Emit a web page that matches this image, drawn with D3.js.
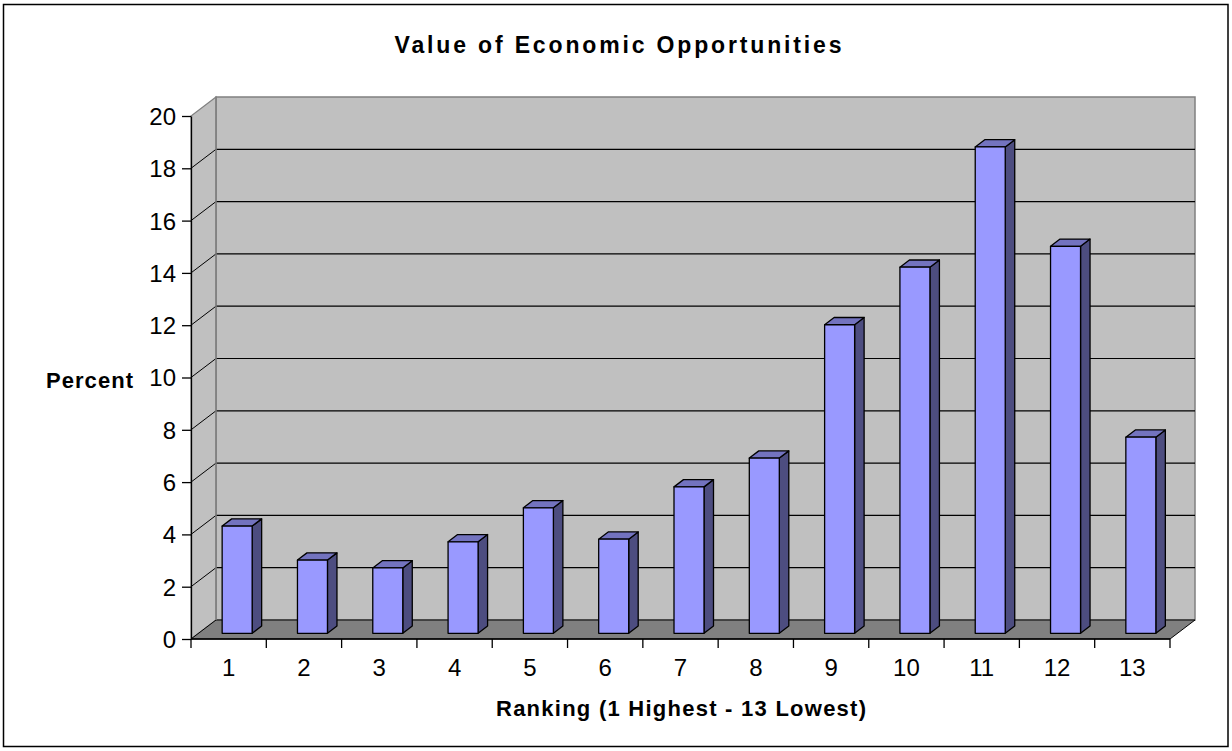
<!DOCTYPE html>
<html><head><meta charset="utf-8">
<script src="https://cdn.jsdelivr.net/npm/d3@7"></script>
<style>body{margin:0;background:#fff}svg{display:block}text{font-family:"Liberation Sans",Arial,sans-serif}</style>
</head><body>
<script>
const categories = ["1","2","3","4","5","6","7","8","9","10","11","12","13"];
const values = [4.1, 2.8, 2.5, 3.5, 4.8, 3.6, 5.6, 6.7, 11.8, 14.0, 18.6, 14.8, 7.5];
const yTicks = [0,2,4,6,8,10,12,14,16,18,20];
const title = "Value of Economic Opportunities";
const xTitle = "Ranking (1 Highest - 13 Lowest)";
const yTitle = "Percent";

const W = 1232, H = 751;
const svg = d3.select("body").append("svg").attr("width", W).attr("height", H);

// outer border
svg.append("rect").attr("x",3.5).attr("y",4.5).attr("width",1224.5).attr("height",742).attr("fill","#fff").attr("stroke","#000").attr("stroke-width",1.5);

const x0 = 191, x1 = 1170, yBase = 639, yTop = 116;
const DX = 25, DY = -19;
const x = d3.scaleBand().domain(categories).range([x0, x1]).padding(0);
const y = d3.scaleLinear().domain([0, 20]).range([yBase, yTop]);

// back wall
svg.append("rect").attr("x", x0+DX).attr("y", yTop+DY).attr("width", x1-x0).attr("height", yBase-yTop)
  .attr("fill","#c0c0c0").attr("stroke","#808080").attr("stroke-width",1.5);
// left wall
svg.append("polygon").attr("points", [[x0,yBase],[x0,yTop],[x0+DX,yTop+DY],[x0+DX,yBase+DY]].join(" "))
  .attr("fill","#c0c0c0").attr("stroke","#808080").attr("stroke-width",1.2);
// floor
svg.append("polygon").attr("points", [[x0,yBase],[x1,yBase],[x1+DX,yBase+DY],[x0+DX,yBase+DY]].join(" "))
  .attr("fill","#808080").attr("stroke","#000").attr("stroke-width",1);

// gridlines (back wall + left wall)
const grid = svg.append("g");
yTicks.filter(t => t > 0 && t < 20).forEach(t => {
  grid.append("line").attr("x1", x0+DX).attr("x2", x1+DX).attr("y1", y(t)+DY).attr("y2", y(t)+DY)
    .attr("stroke","#000").attr("stroke-width",1.2);
  grid.append("line").attr("x1", x0).attr("x2", x0+DX).attr("y1", y(t)).attr("y2", y(t)+DY)
    .attr("stroke","#000").attr("stroke-width",1);
});
svg.append("line").attr("x1",x0+DX).attr("x2",x0+DX).attr("y1",yTop+DY).attr("y2",yBase+DY).attr("stroke","#808080").attr("stroke-width",1.5);

// bars
const f1 = 0.3, f2 = 0.68, bw = 30;
const sx = (f2-f1)*DX, sy = (f2-f1)*DY;
const bars = svg.append("g");
categories.forEach((c, i) => {
  const v = values[i];
  const bx = x(c) + f1*DX + (x.bandwidth()-bw)/2 + 1;
  const yt = y(v) + f1*DY, yb = y(0) + f1*DY;
  const g = bars.append("g").attr("stroke","#000").attr("stroke-width",1.3).attr("stroke-linejoin","round");
  g.append("polygon").attr("points", [[bx+bw,yt],[bx+bw+sx,yt+sy],[bx+bw+sx,yb+sy],[bx+bw,yb]].join(" ")).attr("fill","#4d4d80");
  g.append("polygon").attr("points", [[bx,yt],[bx+bw,yt],[bx+bw+sx,yt+sy],[bx+sx,yt+sy]].join(" ")).attr("fill","#7373bf");
  g.append("rect").attr("x", bx).attr("y", yt).attr("width", bw).attr("height", yb-yt).attr("fill","#9999ff");
});

// y axis
const yAxis = d3.axisLeft(y).tickValues(yTicks).tickSize(9).tickSizeOuter(0).tickPadding(6);
const ya = svg.append("g").attr("transform", `translate(${x0},0)`).call(yAxis);
ya.select(".domain").attr("stroke","#000").attr("stroke-width",1.3);
ya.selectAll(".tick line").attr("stroke","#000").attr("stroke-width",1.3);
ya.selectAll(".tick text").attr("font-size",24).attr("fill","#000").attr("font-family","Liberation Sans, Arial, sans-serif").attr("dy","0.35em");

// x axis: line, boundary ticks, labels
const xa = svg.append("g");
xa.append("line").attr("x1",x0).attr("x2",x1).attr("y1",yBase).attr("y2",yBase).attr("stroke","#000").attr("stroke-width",1.5);
const bounds = categories.map(c => x(c)).concat([x1]);
xa.selectAll("line.tk").data(bounds).join("line").attr("class","tk")
  .attr("x1", d => d).attr("x2", d => d).attr("y1", yBase).attr("y2", yBase+9).attr("stroke","#000").attr("stroke-width",1.3);
xa.selectAll("text").data(categories).join("text")
  .attr("x", d => x(d) + x.bandwidth()/2).attr("y", 676).attr("text-anchor","middle")
  .attr("font-size",24).text(d => d);

// titles
svg.append("text").attr("x", 618).attr("y", 53).attr("text-anchor","middle").attr("font-size",23).attr("font-weight","bold")
  .attr("textLength",447).attr("lengthAdjust","spacing").text(title);
svg.append("text").attr("x", 681).attr("y", 716).attr("text-anchor","middle").attr("font-size",22).attr("font-weight","bold")
  .attr("textLength",370).attr("lengthAdjust","spacing").text(xTitle);
svg.append("text").attr("x", 46).attr("y", 388).attr("font-size",22).attr("font-weight","bold")
  .attr("textLength",87).attr("lengthAdjust","spacing").text(yTitle);
</script>
</body></html>
